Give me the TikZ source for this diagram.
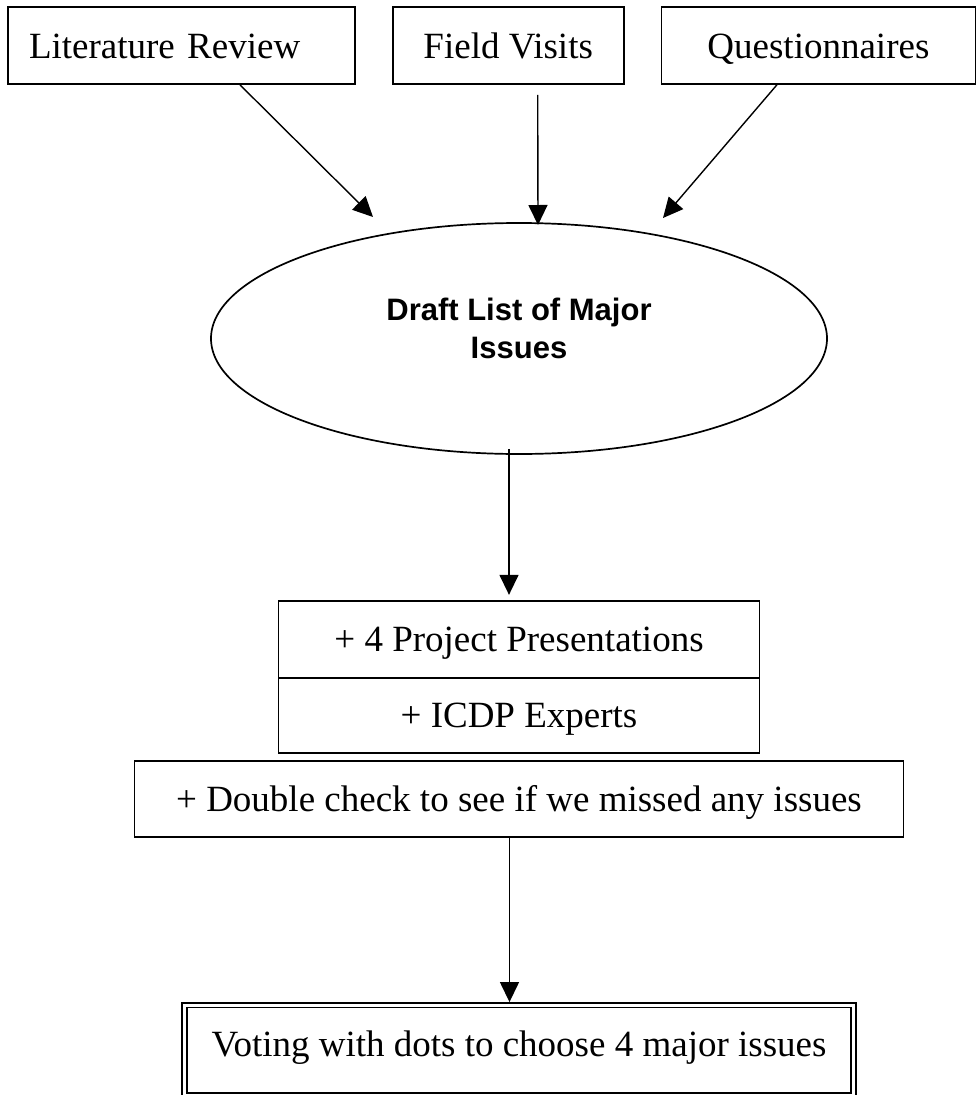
\documentclass[tikz,border=0pt]{standalone}
\usepackage{fontspec}
\setmainfont{Liberation Serif}
\setsansfont{Liberation Sans}
\usetikzlibrary{arrows.meta, shapes, positioning}
\tikzset{> = { Triangle[length = 20pt, width = 19pt] }}

\begin{document}
\begin{tikzpicture}[->, x = 1pt, y = 1pt, line width = 1.7pt,
		box/.style = { draw, rectangle, minimum height = 77pt, text height = 25pt, text depth = 0pt, font = \fontsize{37}{44}\selectfont },
		link/.style = { line width = 1.4pt }]
		\useasboundingbox (0, 0) rectangle (979, -1095);

		\node [box, minimum width = 347pt, text width = 305pt, align = left] (lit) at (181.5, -45.5) {Literature Review};
		\node [box, minimum width = 231pt, right = 36 of lit]   (field) {Field Visits};
		\node [box, minimum width = 314pt, right = 36 of field] (quest) {Questionnaires};

		\node [draw, ellipse, minimum width = 616pt, minimum height = 231pt,
			label = {[align = center, yshift = 10pt, font = \fontsize{31}{38}\sffamily\bfseries]center:Draft List of Major\\Issues}] (draft) at (519, -338.5) {};

		\node [box, outer sep = 0pt, minimum width = 481pt, below = 146 of draft] (proj)    {+ 4 Project Presentations};
		\node [box, outer sep = 0pt, minimum width = 481pt, minimum height = 75pt, below = 0 of proj] (experts) {+ ICDP Experts};
		\node [box, minimum width = 769pt, minimum height = 76pt, below = 7 of experts] (check) {+ Double check to see if we missed any issues};
		\node [box, double, double distance = 2.9pt, outer sep = 3.1pt, minimum width = 669pt, minimum height = 90pt, below = 164.5 of check] (vote) {\raisebox{6pt}{Voting with dots to choose 4 major issues}};

		% arrow tips stop short of the ellipse, as in the sketch
		\coordinate (tiplit)   at (373, -217);
		\coordinate (tipfield) at (538, -225);
		\coordinate (tipquest) at (663, -218);

		\draw [link] ([xshift = 58.5pt]lit.south) -- (tiplit);
		\draw [link] ([xshift = 29.5pt, yshift = -10pt]field.south) -- (tipfield);
		\draw [link] ([xshift = -41.5pt]quest.south) -- (tipquest);

		\draw [link] ([xshift = -10pt, yshift = 6pt]draft.south) -- ([xshift = -10pt, yshift = 6pt]draft.south |- proj.north);
		\draw [link] ([xshift = -9.5pt]check.south) -- ([xshift = -9.5pt]check.south |- vote.north);
	\end{tikzpicture}
\end{document}
